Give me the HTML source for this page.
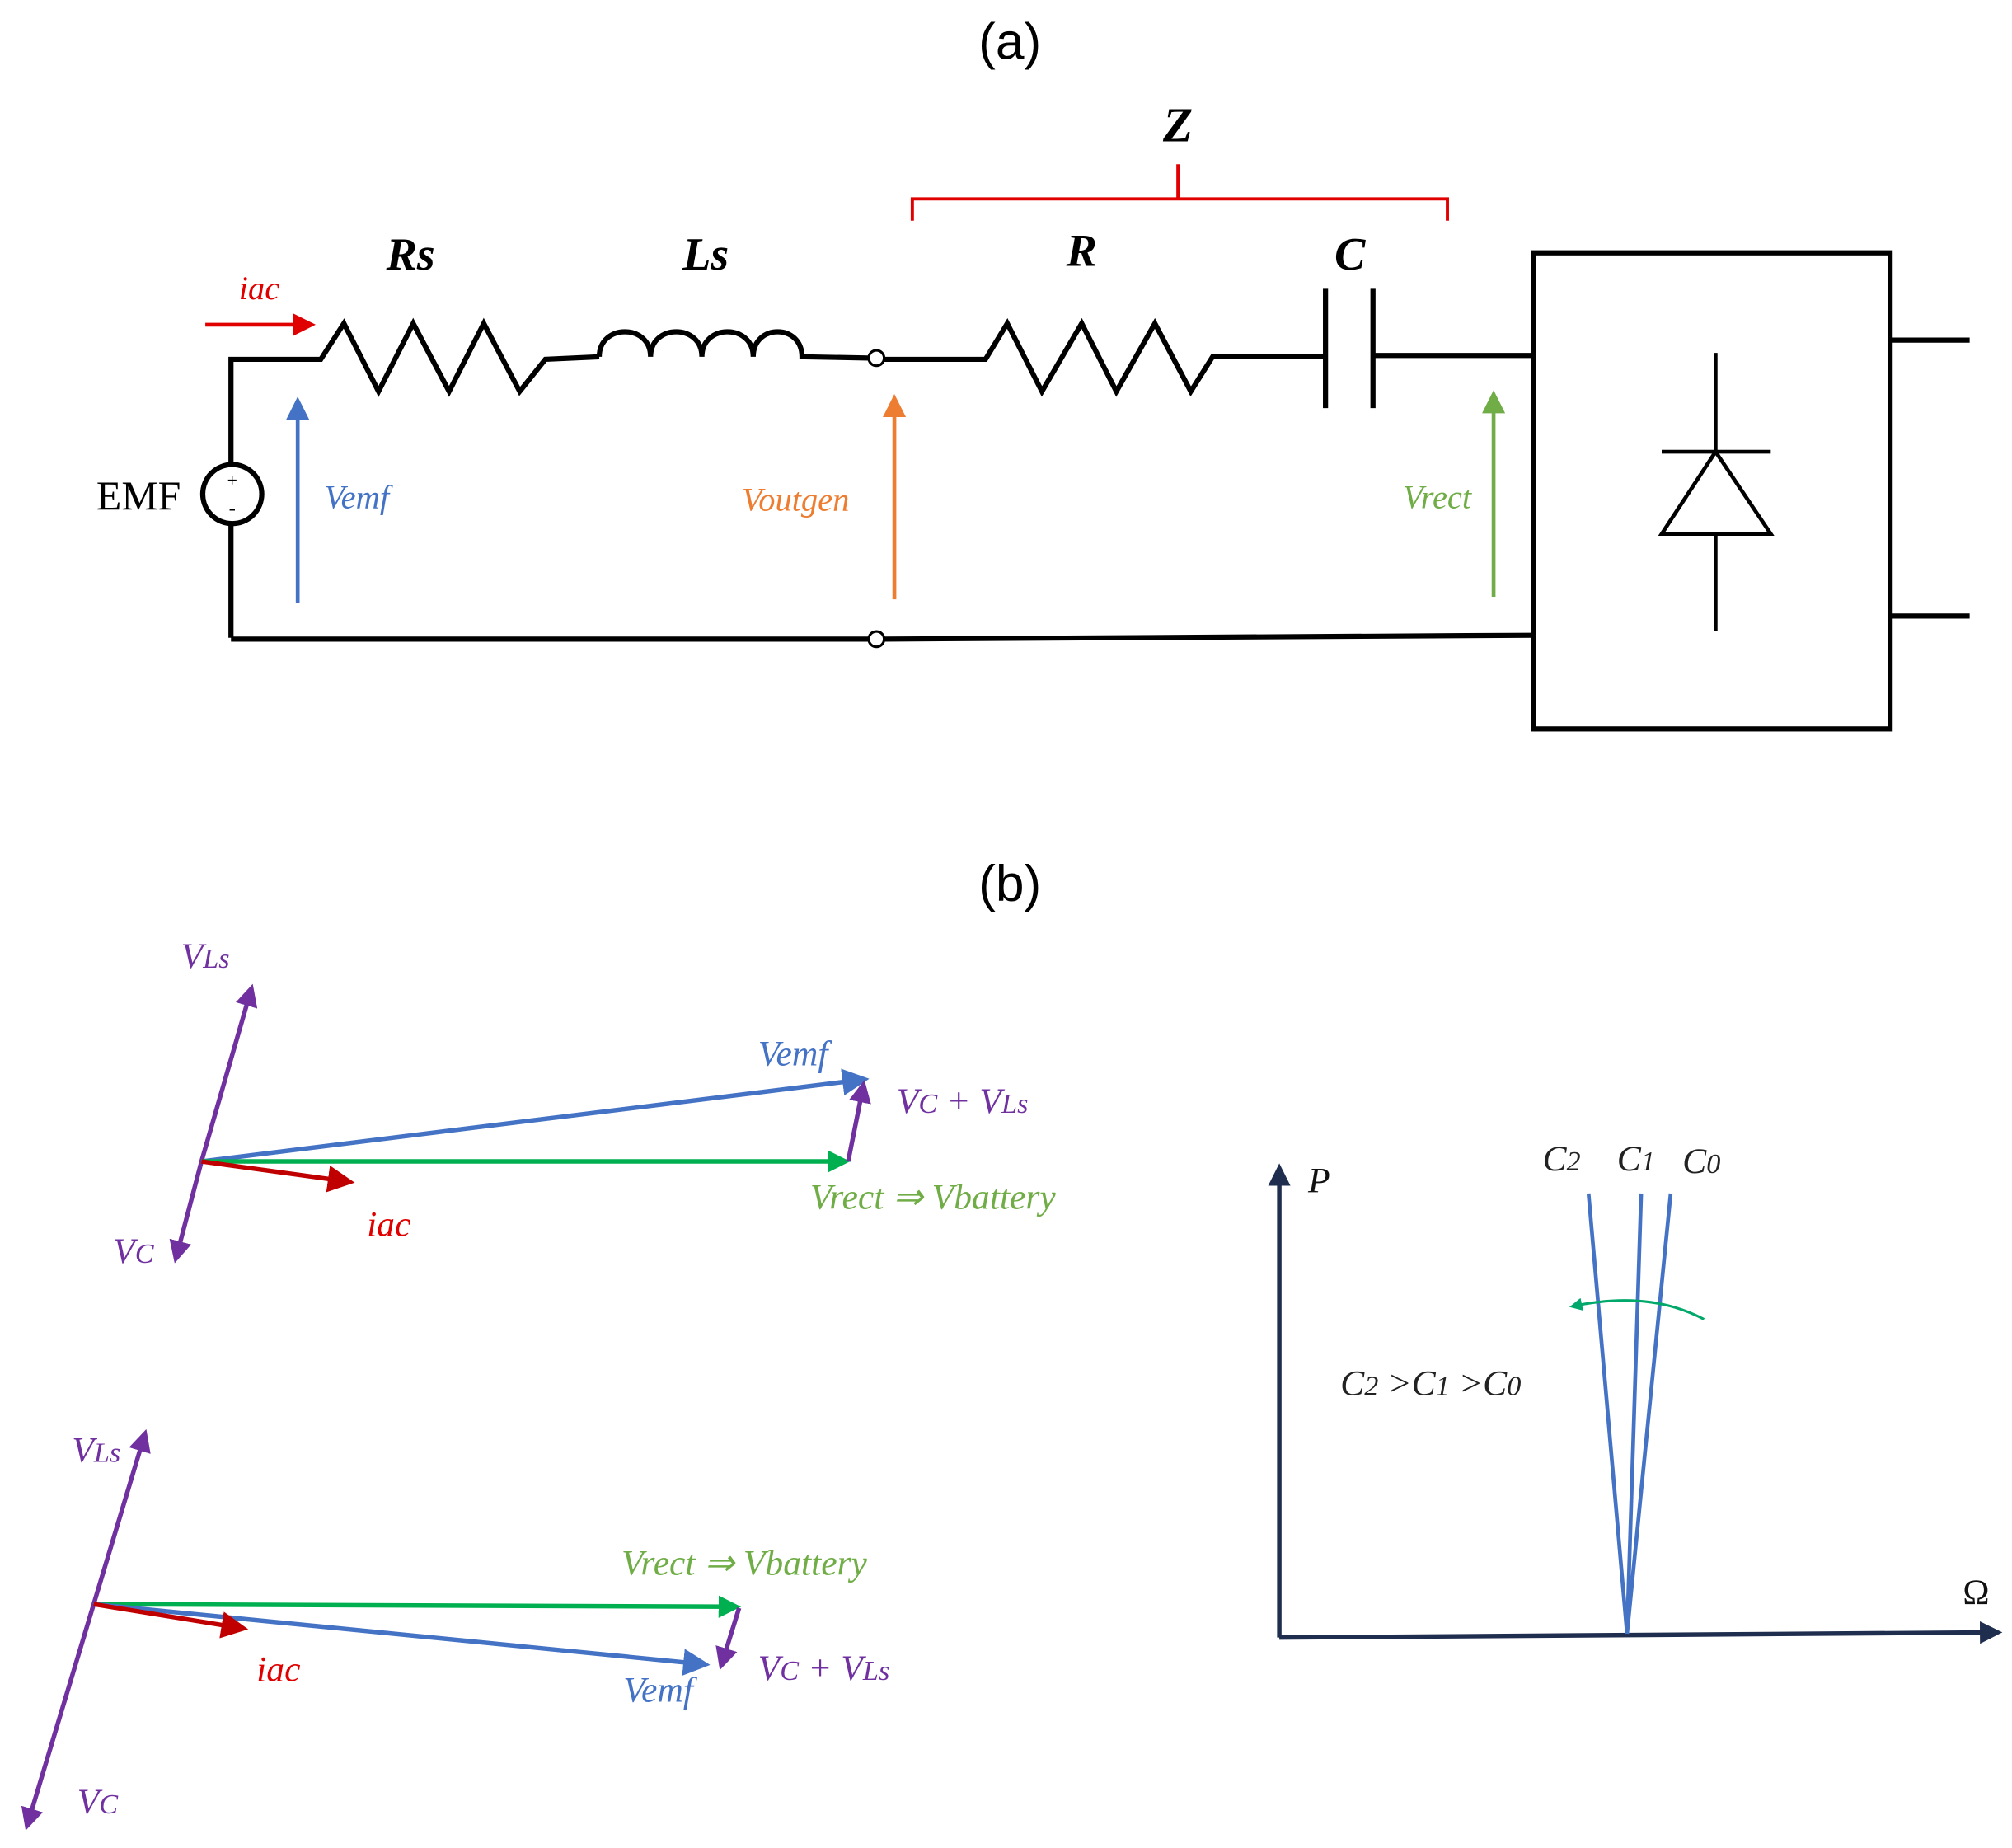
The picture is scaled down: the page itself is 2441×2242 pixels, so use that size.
<!DOCTYPE html>
<html><head><meta charset="utf-8"><style>html,body{margin:0;padding:0;background:#fff}svg{display:block}</style></head>
<body>
<svg width="2441" height="2242" viewBox="0 0 1568 1440" preserveAspectRatio="none" xmlns="http://www.w3.org/2000/svg" font-family="Liberation Serif, serif">
<defs>
<marker id="aR" markerWidth="6" markerHeight="6" refX="5" refY="3" orient="auto" markerUnits="strokeWidth"><path d="M0,0 L6,3 L0,6 z" fill="#e00000"/></marker>
<marker id="aDR" markerWidth="6" markerHeight="6" refX="5" refY="3" orient="auto" markerUnits="strokeWidth"><path d="M0,0 L6,3 L0,6 z" fill="#c00000"/></marker>
<marker id="aB" markerWidth="6" markerHeight="6" refX="5" refY="3" orient="auto" markerUnits="strokeWidth"><path d="M0,0 L6,3 L0,6 z" fill="#4472c4"/></marker>
<marker id="aO" markerWidth="6" markerHeight="6" refX="5" refY="3" orient="auto" markerUnits="strokeWidth"><path d="M0,0 L6,3 L0,6 z" fill="#ed7d31"/></marker>
<marker id="aG" markerWidth="6" markerHeight="6" refX="5" refY="3" orient="auto" markerUnits="strokeWidth"><path d="M0,0 L6,3 L0,6 z" fill="#70ad47"/></marker>
<marker id="aG2" markerWidth="5" markerHeight="5" refX="4" refY="2.5" orient="auto" markerUnits="strokeWidth"><path d="M0,0 L5,2.5 L0,5 z" fill="#00b050"/></marker>
<marker id="aP" markerWidth="5" markerHeight="5" refX="4" refY="2.5" orient="auto" markerUnits="strokeWidth"><path d="M0,0 L5,2.5 L0,5 z" fill="#7030a0"/></marker>
<marker id="aN" markerWidth="5" markerHeight="5" refX="4" refY="2.5" orient="auto" markerUnits="strokeWidth"><path d="M0,0 L5,2.5 L0,5 z" fill="#1f2d4e"/></marker>
<marker id="aT" markerWidth="5" markerHeight="5" refX="4" refY="2.5" orient="auto" markerUnits="strokeWidth"><path d="M0,0 L5,2.5 L0,5 z" fill="#00a86b"/></marker>
</defs>

<!-- (a) -->
<text x="787" y="46" font-size="40" text-anchor="middle" font-family="Liberation Sans, sans-serif">(a)</text>
<text x="918" y="110" font-size="38" font-weight="bold" font-style="italic" text-anchor="middle">Z</text>
<path d="M711,172 L711,155 L1128,155 L1128,172 M918,155 L918,128" fill="none" stroke="#e00000" stroke-width="2.5"/>
<g font-size="36" font-weight="bold" font-style="italic" text-anchor="middle">
<text x="320" y="210">Rs</text><text x="550" y="210">Ls</text><text x="843" y="207">R</text><text x="1052" y="210">C</text>
</g>
<text x="202" y="233" font-size="26" font-style="italic" fill="#e00000" text-anchor="middle">iac</text>
<line x1="160" y1="253" x2="243" y2="253" stroke="#e00000" stroke-width="3" marker-end="url(#aR)"/>

<g fill="none" stroke="#000" stroke-width="4">
<polyline points="180,497 180,280 250,280 268,252 295,305 322,252 350,305 377,252 405,305 425,280 467,278"/>
<path d="M467,278 C467,252 507,252 507,278 C507,252 547,252 547,278 C547,252 587,252 587,278 C587,252 625,252 625,278 L677,279"/>
<polyline points="689,280 768,280 785,252 812,305 843,252 870,305 900,252 928,305 945,278 1033,278"/>
<line x1="1033" y1="225" x2="1033" y2="318"/><line x1="1070" y1="225" x2="1070" y2="318"/>
<line x1="1070" y1="277" x2="1195" y2="277"/>
<line x1="180" y1="498" x2="677" y2="498"/><line x1="689" y1="498" x2="1195" y2="495"/>
<rect x="1195" y="197" width="278" height="371"/>
<line x1="1473" y1="265" x2="1535" y2="265"/><line x1="1473" y1="480" x2="1535" y2="480"/>
</g>
<circle cx="683" cy="279" r="6" fill="#fff" stroke="#000" stroke-width="2"/>
<circle cx="683" cy="498" r="6" fill="#fff" stroke="#000" stroke-width="2"/>
<circle cx="181" cy="385" r="23" fill="#fff" stroke="#000" stroke-width="4"/>
<text x="181" y="379" font-size="14" text-anchor="middle">+</text>
<text x="181" y="401" font-size="16" text-anchor="middle">-</text>
<text x="108" y="397" font-size="32" text-anchor="middle">EMF</text>
<g stroke="#000" stroke-width="3" fill="none">
<line x1="1337" y1="275" x2="1337" y2="492"/>
<line x1="1295" y1="352" x2="1380" y2="352"/>
<polygon points="1337,352 1295,416 1380,416" fill="#fff"/>
</g>
<line x1="232" y1="470" x2="232" y2="312" stroke="#4472c4" stroke-width="3" marker-end="url(#aB)"/>
<text x="278" y="396" font-size="26" font-style="italic" fill="#4472c4" text-anchor="middle">Vemf</text>
<line x1="697" y1="467" x2="697" y2="310" stroke="#ed7d31" stroke-width="3" marker-end="url(#aO)"/>
<text x="620" y="398" font-size="26" font-style="italic" fill="#ed7d31" text-anchor="middle">Voutgen</text>
<line x1="1164" y1="465" x2="1164" y2="307" stroke="#70ad47" stroke-width="3" marker-end="url(#aG)"/>
<text x="1120" y="396" font-size="26" font-style="italic" fill="#70ad47" text-anchor="middle">Vrect</text>

<!-- (b) -->
<text x="787" y="702" font-size="40" text-anchor="middle" font-family="Liberation Sans, sans-serif">(b)</text>

<g font-style="italic" font-size="28">
<!-- top phasor -->
<line x1="157" y1="905" x2="196" y2="770" stroke="#7030a0" stroke-width="3.5" marker-end="url(#aP)"/>
<line x1="157" y1="905" x2="137" y2="981" stroke="#7030a0" stroke-width="3.5" marker-end="url(#aP)"/>
<line x1="157" y1="905" x2="674" y2="841" stroke="#4472c4" stroke-width="3.5" marker-end="url(#aB)"/>
<line x1="157" y1="905" x2="659" y2="905" stroke="#00b050" stroke-width="3.5" marker-end="url(#aG2)"/>
<line x1="661" y1="905" x2="673" y2="845" stroke="#7030a0" stroke-width="3.5" marker-end="url(#aP)"/>
<line x1="157" y1="905" x2="273" y2="921" stroke="#c00000" stroke-width="3.5" marker-end="url(#aDR)"/>
<text x="160" y="754" fill="#7030a0" text-anchor="middle">V<tspan font-size="22">Ls</tspan></text>
<text x="104" y="984" fill="#7030a0" text-anchor="middle">V<tspan font-size="22">C</tspan></text>
<text x="618" y="830" fill="#4472c4" text-anchor="middle">Vemf</text>
<text x="750" y="867" fill="#7030a0" text-anchor="middle">V<tspan font-size="22">C</tspan> + V<tspan font-size="22">Ls</tspan></text>
<text x="727" y="942" fill="#70ad47" text-anchor="middle">Vrect ⇒ Vbattery</text>
<text x="303" y="963" fill="#e00000" text-anchor="middle">iac</text>
<!-- bottom phasor -->
<line x1="73" y1="1250" x2="113" y2="1117" stroke="#7030a0" stroke-width="3.5" marker-end="url(#aP)"/>
<line x1="73" y1="1250" x2="21" y2="1423" stroke="#7030a0" stroke-width="3.5" marker-end="url(#aP)"/>
<line x1="73" y1="1250" x2="574" y2="1252" stroke="#00b050" stroke-width="3.5" marker-end="url(#aG2)"/>
<line x1="73" y1="1250" x2="550" y2="1297" stroke="#4472c4" stroke-width="3.5" marker-end="url(#aB)"/>
<line x1="576" y1="1253" x2="562" y2="1298" stroke="#7030a0" stroke-width="3.5" marker-end="url(#aP)"/>
<line x1="73" y1="1250" x2="190" y2="1269" stroke="#c00000" stroke-width="3.5" marker-end="url(#aDR)"/>
<text x="75" y="1139" fill="#7030a0" text-anchor="middle">V<tspan font-size="22">Ls</tspan></text>
<text x="76" y="1413" fill="#7030a0" text-anchor="middle">V<tspan font-size="22">C</tspan></text>
<text x="580" y="1227" fill="#70ad47" text-anchor="middle">Vrect ⇒ Vbattery</text>
<text x="513" y="1326" fill="#4472c4" text-anchor="middle">Vemf</text>
<text x="642" y="1309" fill="#7030a0" text-anchor="middle">V<tspan font-size="22">C</tspan> + V<tspan font-size="22">Ls</tspan></text>
<text x="217" y="1310" fill="#e00000" text-anchor="middle">iac</text>

<!-- graph -->
<line x1="997" y1="1276" x2="997" y2="910" stroke="#1f2d4e" stroke-width="3.5" marker-end="url(#aN)"/>
<line x1="997" y1="1276" x2="1557" y2="1272" stroke="#1f2d4e" stroke-width="3.5" marker-end="url(#aN)"/>
<g stroke="#4472c4" stroke-width="3"><line x1="1268" y1="1273" x2="1238" y2="930"/><line x1="1268" y1="1273" x2="1279" y2="930"/><line x1="1268" y1="1273" x2="1302" y2="930"/></g>
<path d="M1328,1028 Q1285,1005 1225,1018" fill="none" stroke="#00a86b" stroke-width="2" marker-end="url(#aT)"/>
<text x="1028" y="929" fill="#111" text-anchor="middle">P</text>
<text x="1540" y="1250" font-style="normal" fill="#111" text-anchor="middle">Ω</text>
<text x="1217" y="912" fill="#222" text-anchor="middle">C<tspan font-size="22">2</tspan></text>
<text x="1275" y="912" fill="#222" text-anchor="middle">C<tspan font-size="22">1</tspan></text>
<text x="1326" y="914" fill="#222" text-anchor="middle">C<tspan font-size="22">0</tspan></text>
<text x="1115" y="1087" fill="#222" text-anchor="middle">C<tspan font-size="22">2</tspan> &gt;C<tspan font-size="22">1</tspan> &gt;C<tspan font-size="22">0</tspan></text>
</g>
</svg>
</body></html>
